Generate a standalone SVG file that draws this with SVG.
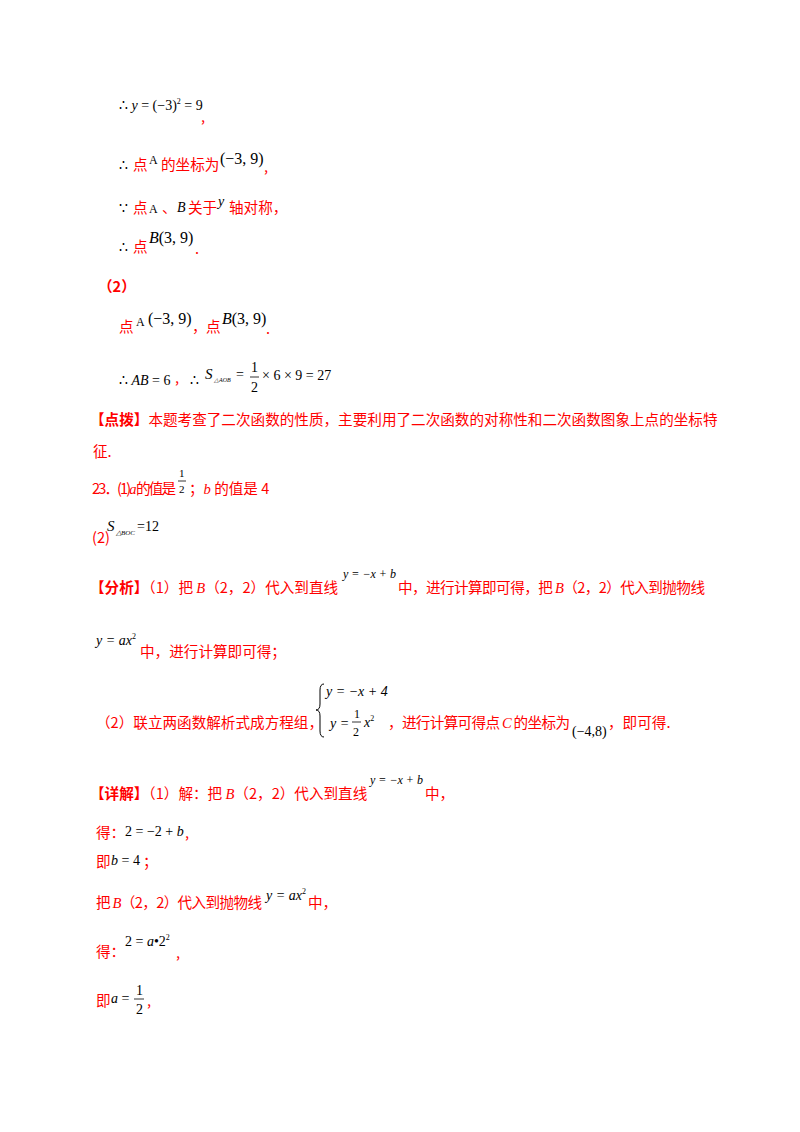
<svg xmlns="http://www.w3.org/2000/svg" width="800" height="1132" viewBox="0 0 800 1132">
<style>
.r{fill:#ff0000;font-family:"Noto Sans CJK SC","Liberation Sans",sans-serif;font-size:14.6px}
.rb{fill:#ff0000;font-family:"Noto Sans CJK SC","Liberation Sans",sans-serif;font-size:14.6px;font-weight:bold}
.m{fill:#000;font-family:"Liberation Serif",serif;font-size:14px}
.i{font-style:italic}
.s{font-size:8px}
</style>
<rect width="800" height="1132" fill="#fff"/>
<text class="m" x="119" y="110">∴ <tspan class="i">y</tspan> = (−3)<tspan class="s" dy="-6">2</tspan><tspan dy="6"> = 9</tspan></text>
<text class="r" x="201" y="122">,</text>

<text class="m" x="119" y="170">∴</text><text class="r" x="133" y="170">点</text>
<text class="m" x="149" y="164" style="font-size:12px">A</text>
<text class="r" x="161" y="170">的坐标为</text>
<text class="m" x="220" y="164" style="font-size:16px">(−3, 9)</text>
<text class="r" x="264" y="172">,</text>

<text class="m" x="119" y="213">∵</text><text class="r" x="133" y="213">点</text>
<text class="m" x="149" y="213" style="font-size:12px">A</text><text class="r" x="162" y="213">、</text>
<text class="m i" x="177" y="212">B</text><text class="r" x="188" y="213">关于</text>
<text class="m i" x="218" y="206">y</text><text class="r" x="229" y="213">轴对称，</text>

<text class="m" x="119" y="252">∴</text><text class="r" x="133" y="252">点</text>
<text class="m" x="149" y="243" style="font-size:16px"><tspan class="i">B</tspan>(3, 9)</text>
<text class="r" x="195" y="254">.</text>

<text class="rb" x="98" y="292">（2）</text>

<text class="r" x="119" y="332">点</text>
<text class="m" x="136" y="326" style="font-size:12px">A</text>
<text class="m" x="148" y="324" style="font-size:16px">(−3, 9)</text>
<text class="r" x="192" y="332">，</text><text class="r" x="206" y="332">点</text>
<text class="m" x="222" y="324" style="font-size:16px"><tspan class="i">B</tspan>(3, 9)</text>
<text class="r" x="266" y="334">.</text>

<text class="m" x="119" y="385">∴ <tspan class="i">AB</tspan> = 6</text><text class="r" x="175" y="383">,</text>
<text class="m" x="190" y="385">∴</text>
<text class="m i" x="205" y="379" style="font-size:15px">S</text><text class="m i" x="214" y="382" style="font-size:6px">△AOB</text>
<text class="m" x="236" y="379">=</text>
<text class="m" x="251" y="372">1</text><line x1="250" y1="377" x2="259" y2="377" stroke="#000" stroke-width="0.8"/><text class="m" x="251" y="392">2</text>
<text class="m" x="262" y="380">× 6 × 9 = 27</text>

<text class="rb" x="90" y="425">【点拨】<tspan font-weight="normal">本题考查了二次函数的性质，主要利用了二次函数的对称性和二次函数图象上点的坐标特</tspan></text>
<text class="r" x="93" y="457">征.</text>

<text class="r" x="92" y="494" textLength="84">23．(1)<tspan class="i" font-family="Liberation Serif">a</tspan> 的值是</text>
<text class="m" x="179" y="477" style="font-size:11px">1</text><line x1="178" y1="481" x2="186" y2="481" stroke="#000" stroke-width="0.8"/><text class="m" x="179" y="493" style="font-size:11px">2</text>
<text class="r" x="189" y="494">；<tspan class="i" font-family="Liberation Serif">b</tspan> 的值是 4</text>

<text class="r" x="92" y="543">(2)</text>
<text class="m i" x="107" y="531" style="font-size:15px">S</text><text class="m i" x="116" y="535" style="font-size:7px">△BOC</text><text class="m" x="137" y="531">=12</text>

<text class="rb" x="90" y="593">【分析】<tspan font-weight="normal">（1）把 <tspan class="i" font-family="Liberation Serif">B</tspan>（2，2）代入到直线</tspan></text>
<text class="m i" x="343" y="578" style="font-size:12px">y = −x + b</text>
<text class="r" x="398" y="593" textLength="307">中，进行计算即可得，把 <tspan class="i" font-family="Liberation Serif">B</tspan>（2，2）代入到抛物线</text>

<text class="m i" x="96" y="645">y = ax<tspan class="s" font-style="normal" dy="-6">2</tspan></text>
<text class="r" x="140" y="657">中，进行计算即可得；</text>

<text class="r" x="96" y="728">（2）联立两函数解析式成方程组，</text>
<path d="M324,684 Q320,684 320,690 L320,704 Q320,710 316,710 Q320,710 320,716 L320,731 Q320,737 324,737" fill="none" stroke="#000" stroke-width="1"/>
<text class="m i" x="326" y="696">y = −x + 4</text>
<text class="m i" x="330" y="728">y =</text>
<text class="m" x="354" y="718" style="font-size:12px">1</text><line x1="352" y1="722" x2="361" y2="722" stroke="#000" stroke-width="0.8"/><text class="m" x="353" y="736" style="font-size:12px">2</text>
<text class="m i" x="364" y="727">x<tspan class="s" font-style="normal" dy="-6">2</tspan></text>
<text class="r" x="388" y="728" textLength="182">，进行计算可得点 <tspan class="i" font-family="Liberation Serif">C</tspan> 的坐标为</text>
<text class="m" x="572" y="736">(−4,8)</text>
<text class="r" x="608" y="728">，即可得.</text>

<text class="rb" x="90" y="799">【详解】<tspan font-weight="normal">（1）解：把 <tspan class="i" font-family="Liberation Serif">B</tspan>（2，2）代入到直线</tspan></text>
<text class="m i" x="370" y="784" style="font-size:12px">y = −x + b</text>
<text class="r" x="425" y="799">中，</text>

<text class="r" x="96" y="838">得：</text><text class="m" x="125" y="836"><tspan>2 = −2 + </tspan><tspan class="i">b</tspan></text><text class="r" x="185" y="838">,</text>
<text class="r" x="96" y="867">即</text><text class="m" x="111" y="865"><tspan class="i">b</tspan> = 4</text><text class="r" x="143" y="867">；</text>

<text class="r" x="96" y="908" textLength="166">把 <tspan class="i" font-family="Liberation Serif">B</tspan>（2，2）代入到抛物线</text>
<text class="m i" x="266" y="900">y = ax<tspan class="s" font-style="normal" dy="-6">2</tspan></text>
<text class="r" x="308" y="908">中，</text>

<text class="r" x="96" y="957">得：</text><text class="m" x="125" y="946">2 = <tspan class="i">a</tspan>•2<tspan class="s" dy="-6">2</tspan></text><text class="r" x="176" y="958">,</text>

<text class="r" x="96" y="1006">即</text><text class="m" x="111" y="1003"><tspan class="i">a</tspan> =</text>
<text class="m" x="136" y="995">1</text><line x1="134" y1="999" x2="144" y2="999" stroke="#000" stroke-width="0.8"/><text class="m" x="136" y="1014">2</text>
<text class="r" x="147" y="1006">,</text>
</svg>
